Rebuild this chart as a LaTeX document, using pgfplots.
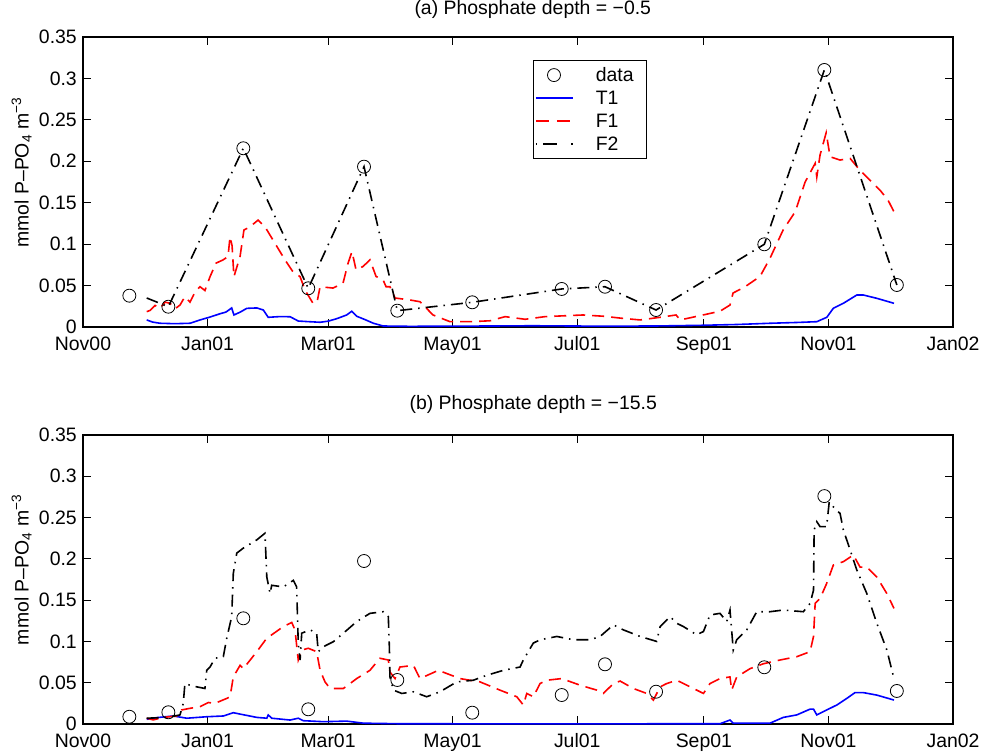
\documentclass[border=0pt]{standalone}
\usepackage{pgfplots}
\pgfplotsset{compat=1.18}
\usepackage{fontspec}
\setmainfont{Liberation Sans}
\newcommand{\fs}{\fontsize{19.5}{22.5}\selectfont}
\pgfplotsset{
  phos/.style={
    scale only axis, width=870bp,
    xmin=0, xmax=426, ymin=0, ymax=0.35,
    xtick={0,61,120,181,242,304,365,426},
    xticklabels={Nov00,Jan01,Mar01,May01,Jul01,Sep01,Nov01,Jan02},
    ytick={0,0.05,0.1,0.15,0.2,0.25,0.3,0.35},
    yticklabels={0,0.05,0.1,0.15,0.2,0.25,0.3,0.35},
    scaled y ticks=false,
    tick align=inside, xtick pos=both, ytick pos=both,
    major tick length=8bp,
    axis line style={line width=1.1bp},
    every tick/.style={line width=0.8bp, black},
    xticklabel style={font=\fs, anchor=base, yshift=-23.5bp, inner sep=0pt},
    yticklabel style={font=\fs, anchor=east, inner sep=0pt, xshift=-6bp},
    ylabel={mmol P–PO\textsubscript{4} m\textsuperscript{−3}},
    ylabel style={font=\fs, at={(rel axis cs:-0.0626,0.533)}, anchor=base, inner sep=0pt},
    clip=false,
  },
  datast/.style={only marks, mark=o, mark size=6.5bp, black, line width=0.8bp,
    legend image code/.code={\draw[black, line width=0.8bp] plot[mark=o, mark size=6.5bp] coordinates {(18bp,0bp)};}},
  t1st/.style={blue, line width=1.6bp, no marks,
    legend image code/.code={\draw[blue, line width=1.6bp] (0bp,0bp) -- (37bp,0bp);}},
  f1st/.style={red, line width=1.6bp, no marks, dash pattern=on 12bp off 7bp,
    legend image code/.code={\draw[red, line width=1.6bp, dash pattern=on 13bp off 8bp] (0bp,0bp) -- (37bp,0bp);}},
  f2st/.style={black, line width=1.6bp, no marks, dash pattern=on 12bp off 6bp on 1.5bp off 6bp,
    legend image code/.code={\draw[black, line width=1.6bp, dash pattern=on 1.5bp off 6bp on 14bp off 14bp] (0bp,0bp) -- (37bp,0bp);}},
}
\begin{document}
\begin{tikzpicture}
\useasboundingbox (0,0) rectangle (987bp,754bp);
% ---------------- (a) ----------------
\begin{axis}[phos, at={(83bp,427bp)}, anchor=south west, height=290bp,
  title={(a) Phosphate depth = −0.5},
  title style={font=\fs, at={(rel axis cs:0.517,1.0562)}, anchor=base, inner sep=0pt},
  legend style={at={(rel axis cs:0.517,0.921)}, anchor=north west, draw=black,
    line width=0.8bp, font=\fs, inner xsep=2bp, inner ysep=5bp,
    cells={anchor=west}, row sep=4bp,
    /tikz/every odd column/.append style={column sep=20bp}},
]
\addplot[datast] coordinates {
(22.7,0.0378) (41.8,0.0245) (78.5,0.2157) (110.3,0.0467) (137.6,0.1935) (153.9,0.0197)
(190.6,0.0298) (234.4,0.0459) (255.6,0.0486) (280.6,0.0205) (333.6,0.0998) (363,0.3102) (398.5,0.0507)};
\addlegendentry{data\hspace*{9bp}}
\addplot[t1st] coordinates {
(31.2,0.0085) (34,0.006) (37.7,0.0045) (45,0.004) (52.4,0.0045) (57.3,0.0085) (62.2,0.012)
(67.1,0.016) (70,0.018) (72.8,0.023) (73.9,0.0145) (77,0.018) (80.2,0.0225) (85.1,0.023)
(88.3,0.0205) (90.7,0.0117) (96,0.0125) (101.4,0.0124) (105.4,0.0072) (110,0.0065) (116.1,0.0057)
(120,0.007) (124.2,0.010) (129.1,0.0145) (131.6,0.019) (134,0.013) (138,0.009) (142.2,0.0045)
(147,0.0012) (160,0.0008) (179.7,0.001) (200,0.0012) (220,0.0015) (253.2,0.001) (280,0.0012)
(302.1,0.002) (320,0.003) (336.4,0.0045) (350,0.0055) (359.3,0.0064) (364.2,0.0117)
(367.4,0.0226) (372.3,0.0286) (378.9,0.0386) (382.1,0.0386) (388.7,0.0346) (397.1,0.0286)};
\addlegendentry{T1}
\addplot[f1st] coordinates {
(31.2,0.0185) (32.8,0.02) (35.3,0.026) (37.7,0.0226) (40.2,0.03) (42.6,0.0286) (45.1,0.022)
(47.5,0.0265) (49.9,0.0366) (52.4,0.03) (54.8,0.042) (57.3,0.0486) (59.7,0.044) (62.2,0.0607)
(65.1,0.077) (68.6,0.081) (71,0.085) (72,0.109) (73,0.098) (73.9,0.0607) (76.9,0.085)
(78.8,0.117) (81.8,0.121) (85.7,0.129) (89.1,0.121) (94,0.101) (98.9,0.081) (102.8,0.0667)
(106.3,0.0607) (108.7,0.0447) (112.6,0.0286) (114.6,0.03) (116.1,0.0486) (122.4,0.047)
(127.3,0.0527) (129.8,0.077) (131.7,0.091) (133.7,0.069) (137.1,0.073) (140.5,0.081)
(143.5,0.061) (146.9,0.057) (148.4,0.0486) (150.3,0.0486) (152.8,0.035) (160.1,0.0326)
(165,0.0305) (171.4,0.0145) (179.7,0.0064) (189.5,0.0064) (199.3,0.0075) (206.7,0.0125)
(216.5,0.0093) (226.2,0.0125) (233.6,0.0133) (244.8,0.0145) (254.7,0.013) (264,0.0105)
(272.8,0.0085) (282.6,0.0117) (290.4,0.0145) (292.4,0.0085) (302.1,0.0137) (311.9,0.019)
(316.8,0.0265) (318.3,0.041) (324.2,0.0486) (331.5,0.061) (336.4,0.083) (342.8,0.117)
(348.7,0.139) (353.6,0.175) (358.5,0.1975) (359.3,0.181) (360.9,0.2076) (363.9,0.2345)
(365.8,0.2055) (370.7,0.2015) (375.6,0.2035) (380.5,0.189) (385.4,0.177) (390.3,0.165)
(394.2,0.153) (397.1,0.139)};
\addlegendentry{F1}
\addplot[f2st] coordinates {
(31.2,0.035) (41.8,0.0245) (78.5,0.2157) (110.3,0.0467) (137.6,0.1935) (153.9,0.0197)
(190.6,0.0298) (234.4,0.0459) (255.6,0.0486) (280.6,0.0205) (333.6,0.0998) (363,0.3102) (398.5,0.0507)};
\addlegendentry{F2}
\end{axis}
% ---------------- (b) ----------------
\begin{axis}[phos, at={(83bp,30bp)}, anchor=south west, height=289bp,
  title={(b) Phosphate depth = −15.5},
  title style={font=\fs, at={(rel axis cs:0.5175,1.0668)}, anchor=base, inner sep=0pt},
]
\addplot[datast] coordinates {
(22.7,0.0088) (41.8,0.0142) (78.5,0.128) (110.3,0.0178) (137.6,0.1974) (153.9,0.0533)
(190.6,0.0137) (234.4,0.0351) (255.6,0.0723) (280.6,0.0391) (333.6,0.0687) (363,0.276) (398.5,0.04)};
\addplot[t1st] coordinates {
(31.2,0.0057) (36.1,0.0077) (44.2,0.0097) (50.8,0.007) (60.6,0.0088) (68.7,0.0097) (73.6,0.0137)
(76.9,0.012) (85.1,0.008) (90,0.007) (90.7,0.011) (92.4,0.007) (101.4,0.0048) (105.4,0.007)
(107.9,0.004) (117.7,0.0028) (129.1,0.0035) (137.3,0.001) (155.2,0.0003) (200,0.0002)
(250,0.0002) (311.9,0.0003) (316.8,0.0048) (318.4,0.001) (336.4,0.001) (342.9,0.008)
(349.5,0.011) (356,0.018) (357.7,0.018) (359.3,0.011) (362.5,0.015) (369.1,0.023) (374,0.031)
(378,0.038) (382.1,0.038) (388.7,0.035) (397.1,0.029)};
\addplot[f1st] coordinates {
(31.2,0.007) (34.4,0.005) (39.3,0.008) (45.9,0.0097) (48.3,0.017) (52.4,0.019) (57.3,0.021)
(61.4,0.026) (64.6,0.025) (70.4,0.031) (72,0.033) (73.6,0.057) (76.9,0.071) (78.5,0.067)
(85.1,0.0876) (90,0.104) (92.4,0.108) (98.1,0.118) (102.2,0.123) (103.8,0.114) (105.4,0.0775)
(107.1,0.0896) (110.3,0.0917) (114.4,0.0876) (116.1,0.065) (118.5,0.051) (121,0.043)
(127.5,0.043) (134,0.055) (140.5,0.065) (145.4,0.0796) (149.5,0.0775) (150.3,0.063)
(151.8,0.058) (152.8,0.055) (155.2,0.069) (161.8,0.071) (165,0.055) (174,0.065) (184.6,0.055)
(194.4,0.051) (204.2,0.041) (212.4,0.033) (215.6,0.023) (217.3,0.037) (220.5,0.033)
(223.8,0.049) (227.1,0.053) (234.4,0.055) (243.4,0.047) (251.6,0.041) (254.8,0.037)
(259.7,0.049) (263,0.052) (269.5,0.043) (276,0.037) (279.3,0.029) (282.6,0.045) (285.8,0.049)
(290.7,0.053) (294,0.049) (298.9,0.043) (303.8,0.037) (307,0.049) (311.9,0.055) (316.8,0.057)
(317.6,0.041) (320.1,0.057) (326.6,0.067) (333.2,0.073) (341.3,0.0775) (349.5,0.0815)
(356,0.0876) (357.7,0.106) (358.5,0.146) (360.9,0.152) (364.1,0.17) (367.4,0.1925)
(372.3,0.1966) (377.2,0.2047) (380.5,0.19) (383.8,0.19) (388.7,0.178) (393.6,0.158) (397.1,0.14)};
\addplot[f2st] coordinates {
(31.2,0.007) (41,0.008) (47.5,0.011) (49.1,0.025) (49.9,0.049) (52.4,0.047) (55.7,0.045)
(59.7,0.043) (60.6,0.065) (62.2,0.069) (64.6,0.0796) (68.7,0.0815) (70.4,0.104) (72.8,0.13)
(73.6,0.1825) (75.3,0.207) (78.5,0.213) (85.1,0.223) (89.1,0.231) (90,0.178) (91.6,0.158)
(92.4,0.168) (98.1,0.166) (103,0.174) (104.6,0.166) (105.4,0.098) (106.3,0.0775) (107.1,0.11)
(111.2,0.114) (114.4,0.11) (115.2,0.0876) (117.7,0.0936) (122.6,0.0997) (127.5,0.11)
(134,0.124) (140.5,0.134) (147.1,0.136) (149.5,0.13) (150,0.0936) (150.3,0.057) (152,0.041)
(156.1,0.037) (161.8,0.039) (168.3,0.033) (174.8,0.039) (183,0.051) (191.1,0.053) (197.7,0.059)
(205.8,0.065) (214,0.069) (215.6,0.0775) (220.5,0.098) (223.8,0.102) (232,0.106) (240.1,0.102)
(248.3,0.102) (253.2,0.106) (259.7,0.12) (264.6,0.114) (272.8,0.106) (280.9,0.1) (282.6,0.118)
(287.5,0.13) (290.7,0.122) (294,0.118) (300.5,0.108) (303.8,0.112) (307,0.132) (311.9,0.134)
(315.2,0.124) (316.8,0.138) (317.6,0.114) (318.4,0.0896) (320.1,0.102) (325,0.114) (329.9,0.136)
(336.4,0.136) (342.9,0.138) (352.7,0.136) (356,0.146) (357.7,0.162) (358,0.235) (359.3,0.245)
(360.9,0.239) (364.1,0.239) (365.4,0.269) (367.4,0.263) (370.7,0.255) (372.3,0.235) (375.6,0.211)
(378.9,0.1865) (383.8,0.158) (388.7,0.122) (393.6,0.0896) (397.1,0.055)};
\end{axis}
\end{tikzpicture}
\end{document}
